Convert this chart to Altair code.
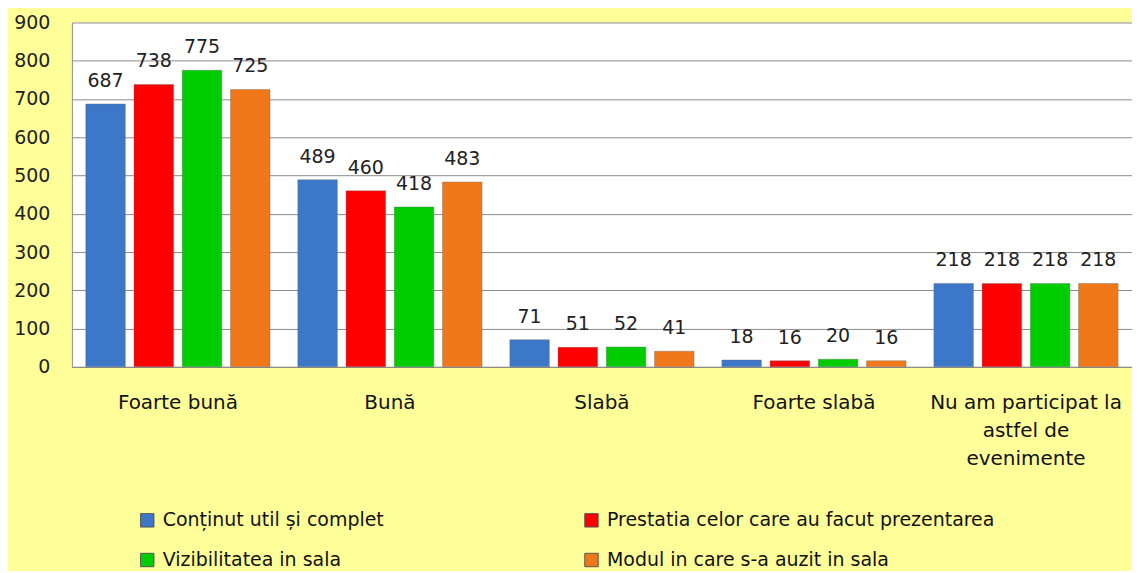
import altair as alt
import pandas as pd

categories = ["Foarte bună", "Bună", "Slabă", "Foarte slabă", "Nu am participat la astfel de evenimente"]
series = ["Conținut util și complet", "Prestatia celor care au facut prezentarea",
          "Vizibilitatea in sala", "Modul in care s-a auzit in sala"]
continut = [687, 489, 71, 18, 218]
prestatia = [738, 460, 51, 16, 218]
vizibilitate = [775, 418, 52, 20, 218]
modul = [725, 483, 41, 16, 218]
colors = ["#3D78C8", "#FF0000", "#00CC00", "#F07818"]
y_ticks = [0, 100, 200, 300, 400, 500, 600, 700, 800, 900]
legend_order = [series[0], series[2], series[1], series[3]]

rows = []
for s, vals in zip(series, [continut, prestatia, vizibilitate, modul]):
    for c, v in zip(categories, vals):
        rows.append({"cat": c, "series": s, "value": v})
df = pd.DataFrame(rows)

FONT = "DejaVu Sans"

x = alt.X("cat:N", sort=categories, title=None,
          scale=alt.Scale(paddingInner=0.09, paddingOuter=0.045),
          axis=alt.Axis(labelAngle=0, labelFontSize=20, labelColor="#111", labelFont=FONT,
                        labelPadding=26, ticks=False, domainColor="#8a8a8a", labelLineHeight=28,
                        labelLimit=400,
                        labelExpr="datum.label == 'Nu am participat la astfel de evenimente' ? ['Nu am participat la','astfel de','evenimente'] : datum.label"))
xo = alt.XOffset("series:N", sort=series,
                 scale=alt.Scale(paddingInner=0.18, paddingOuter=0.09))
y = alt.Y("value:Q", title=None,
          scale=alt.Scale(domain=[0, 900], nice=False),
          axis=alt.Axis(values=y_ticks, labelFontSize=19, labelColor="#222", labelFont=FONT,
                        labelPadding=22, ticks=False, domainColor="#8a8a8a",
                        gridColor="#8c8c8c", gridOpacity=1))
color = alt.Color("series:N", sort=series, title=None,
                  scale=alt.Scale(domain=series, range=colors),
                  legend=alt.Legend(orient="none", legendX=66, legendY=489, columns=2,
                                    values=legend_order,
                                    symbolType="square", symbolSize=180, symbolStrokeWidth=1,
                                    symbolStrokeColor="#555", labelFontSize=19, labelFont=FONT,
                                    labelColor="#111", rowPadding=20, columnPadding=198,
                                    labelOffset=6, labelLimit=600, padding=0))

bars = alt.Chart(df).mark_bar(stroke="#666", strokeWidth=0.6, strokeOpacity=0.6).encode(
    x=x, xOffset=xo, y=y, color=color)
labels = alt.Chart(df).mark_text(dy=-23, fontSize=19, font=FONT, color="#222").encode(
    x=x, xOffset=xo, y=y, text="value:Q")

chart = alt.layer(bars, labels).properties(
    width=1062, height=345,
    autosize=alt.AutoSizeParams(type="none"),
    padding={"left": 64, "top": 14, "right": 0, "bottom": 204},
    background="#FFFF99",
).configure_view(fill="white", stroke=None)

chart.save("out.html", embed_options={"renderer": "svg", "actions": False})
